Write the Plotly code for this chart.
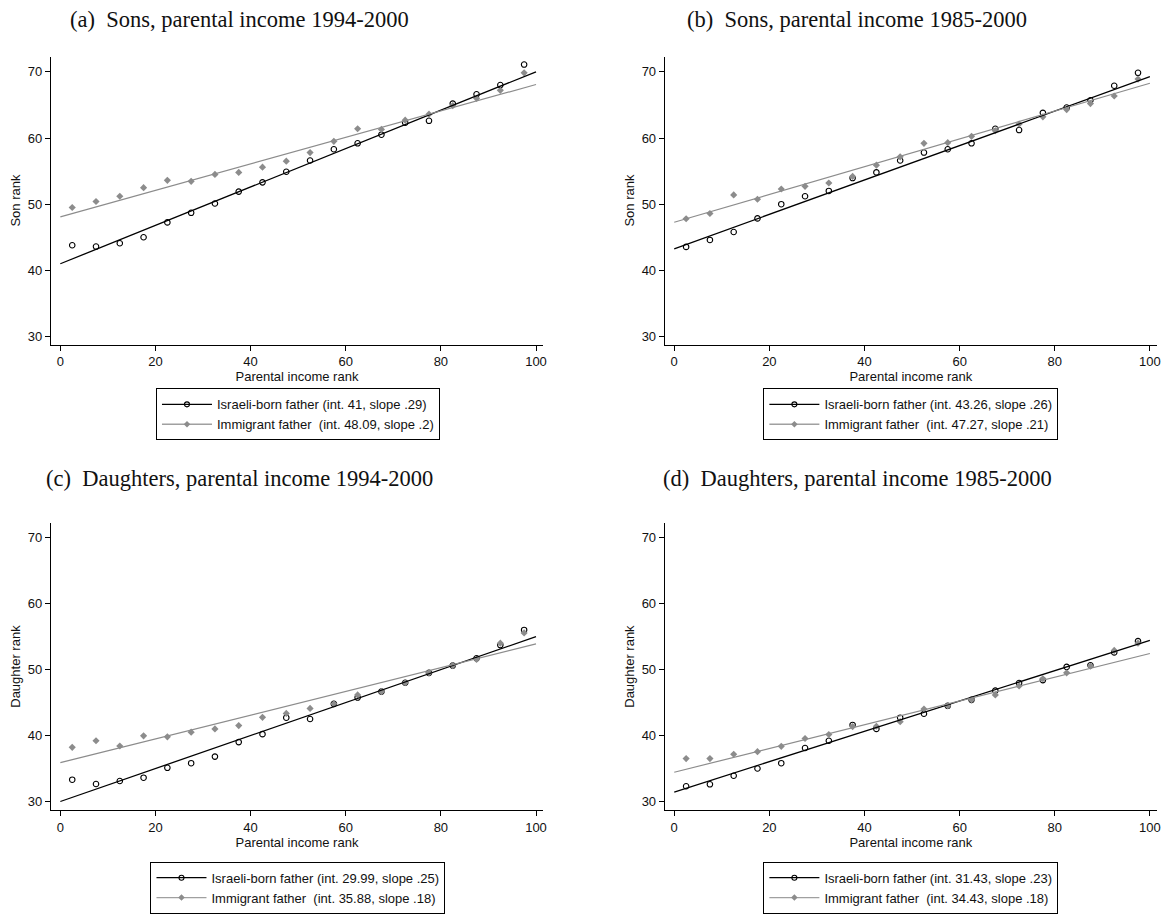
import plotly.graph_objects as go
import numpy as np

# ---------------- data ----------------
bins = [2.5, 7.5, 12.5, 17.5, 22.5, 27.5, 32.5, 37.5, 42.5, 47.5,
        52.5, 57.5, 62.5, 67.5, 72.5, 77.5, 82.5, 87.5, 92.5, 97.5]

# (a) Sons, parental income 1994-2000
sons94_israeli = [43.8, 43.6, 44.1, 45.0, 47.25, 48.7, 50.1, 51.9, 53.3, 54.9,
                  56.6, 58.3, 59.2, 60.5, 62.3, 62.6, 65.2, 66.6, 68.0, 71.1]
sons94_immig = [49.5, 50.4, 51.2, 52.5, 53.6, 53.45, 54.5, 54.8, 55.6, 56.5,
                57.8, 59.5, 61.4, 61.3, 62.7, 63.6, 64.9, 66.0, 67.2, 69.85]
# (b) Sons, parental income 1985-2000
sons85_israeli = [43.55, 44.6, 45.8, 47.85, 50.0, 51.2, 52.0, 53.95, 54.8, 56.6,
                  57.8, 58.3, 59.2, 61.4, 61.2, 63.8, 64.6, 65.7, 67.9, 69.85]
sons85_immig = [47.8, 48.6, 51.4, 50.75, 52.3, 52.7, 53.2, 54.2, 55.9, 57.15,
                59.2, 59.3, 60.25, 61.1, 62.1, 63.2, 64.3, 65.2, 66.35, 68.9]
# (c) Daughters, parental income 1994-2000
dau94_israeli = [33.3, 32.65, 33.1, 33.6, 35.1, 35.8, 36.8, 39.0, 40.2, 42.7,
                 42.5, 44.8, 45.75, 46.65, 48.0, 49.5, 50.6, 51.7, 53.7, 56.0]
dau94_immig = [38.2, 39.2, 38.4, 39.95, 39.8, 40.5, 41.0, 41.5, 42.75, 43.35,
               44.1, 44.8, 46.15, 46.65, 48.0, 49.5, 50.6, 51.55, 54.0, 55.55]
# (d) Daughters, parental income 1985-2000
dau85_israeli = [32.3, 32.6, 33.9, 35.0, 35.8, 38.1, 39.2, 41.6, 41.0, 42.7,
                 43.3, 44.5, 45.4, 46.8, 47.95, 48.4, 50.4, 50.65, 52.6, 54.3]
dau85_immig = [36.5, 36.5, 37.15, 37.55, 38.35, 39.55, 40.15, 41.35, 41.4, 42.1,
               44.0, 44.5, 45.4, 46.15, 47.5, 48.6, 49.5, 50.5, 52.9, 54.0]

# fitted lines (from legends)
israeli_int = [41.0, 43.26, 29.99, 31.43]
israeli_slope = [0.29, 0.26, 0.25, 0.23]
immig_int = [48.09, 47.27, 35.88, 34.43]
immig_slope = [0.20, 0.21, 0.18, 0.18]
israeli_slope_lbl = [".29", ".26", ".25", ".23"]
immig_slope_lbl = [".2", ".21", ".18", ".18"]
israeli_int_lbl = ["41", "43.26", "29.99", "31.43"]
immig_int_lbl = ["48.09", "47.27", "35.88", "34.43"]

titles = ["(a)\u2002Sons, parental income 1994-2000",
          "(b)\u2002Sons, parental income 1985-2000",
          "(c)\u2002Daughters, parental income 1994-2000",
          "(d)\u2002Daughters, parental income 1985-2000"]
ytitles = ["Son rank", "Son rank", "Daughter rank", "Daughter rank"]
xtitle = "Parental income rank"
xticks = [0, 20, 40, 60, 80, 100]
yticks = [30, 40, 50, 60, 70]

israeli_series = [sons94_israeli, sons85_israeli, dau94_israeli, dau85_israeli]
immig_series = [sons94_immig, sons85_immig, dau94_immig, dau85_immig]

# ---------------- layout geometry ----------------
W, H = 1171, 914
BLACK = "#000000"
GRAY = "#8c8c8c"
GRAY_LEG = "#a0a0a0"
SANS = "Liberation Sans, Arial, sans-serif"
SERIF = "Liberation Serif, Times New Roman, serif"

xdom_px = [(51, 545), (667, 1161), (51, 545), (667, 1161)]
ydom_px = [(58, 353), (58, 353), (536, 830), (536, 830)]
yranges = [[28.8, 72.3], [28.8, 72.3], [28.7, 72.2], [28.7, 72.2]]
title_pos = [(240, 20), (860, 20), (240, 490), (860, 490)]
legend_pos = [(299, 398), (914, 398), (299, 883), (914, 883)]

fig = go.Figure()
xline = np.linspace(0, 100, 2)

for i in range(4):
    suf = "" if i == 0 else str(i + 1)
    xa, ya = "x" + suf, "y" + suf
    leg = "legend" + suf
    # scatter points
    fig.add_trace(go.Scatter(x=bins, y=israeli_series[i], mode="markers", xaxis=xa, yaxis=ya,
                             marker=dict(symbol="circle-open", size=5.5, color=BLACK, line=dict(width=1.1)),
                             showlegend=False, hoverinfo="skip"))
    fig.add_trace(go.Scatter(x=bins, y=immig_series[i], mode="markers", xaxis=xa, yaxis=ya,
                             marker=dict(symbol="diamond", size=5.5, color=GRAY),
                             showlegend=False, hoverinfo="skip"))
    # fit lines
    fig.add_trace(go.Scatter(x=xline, y=israeli_int[i] + israeli_slope[i] * xline, mode="lines",
                             xaxis=xa, yaxis=ya, line=dict(color=BLACK, width=1.3),
                             showlegend=False, hoverinfo="skip"))
    fig.add_trace(go.Scatter(x=xline, y=immig_int[i] + immig_slope[i] * xline, mode="lines",
                             xaxis=xa, yaxis=ya, line=dict(color=GRAY, width=1.2),
                             showlegend=False, hoverinfo="skip"))
    # legend entries
    fig.add_trace(go.Scatter(x=[None], y=[None], mode="lines+markers", xaxis=xa, yaxis=ya,
                             name=f"Israeli-born father (int. {israeli_int_lbl[i]}, slope {israeli_slope_lbl[i]})",
                             line=dict(color=BLACK, width=1.3),
                             marker=dict(symbol="circle-open", size=5, color=BLACK, line=dict(width=1.1)),
                             legend=leg))
    fig.add_trace(go.Scatter(x=[None], y=[None], mode="lines+markers", xaxis=xa, yaxis=ya,
                             name=f"Immigrant father\u00a0 (int. {immig_int_lbl[i]}, slope {immig_slope_lbl[i]})",
                             line=dict(color=GRAY_LEG, width=1.3),
                             marker=dict(symbol="diamond", size=5, color=GRAY),
                             legend=leg))

    x0, x1 = xdom_px[i]
    yt, yb = ydom_px[i]
    fig.layout["xaxis" + suf] = dict(
        domain=[x0 / W, x1 / W], anchor=ya, range=[-2, 101.5],
        tickvals=xticks, ticks="outside", ticklen=5, tickwidth=1, tickcolor=BLACK,
        showline=True, linecolor=BLACK, linewidth=1, showgrid=False, zeroline=False,
        ticklabeloverflow="allow",
        tickfont=dict(family=SANS, size=13, color="#111"),
        title=dict(text=xtitle, font=dict(family=SANS, size=13, color="#111"), standoff=1),
    )
    fig.layout["yaxis" + suf] = dict(
        domain=[1 - yb / H, 1 - yt / H], anchor=xa, range=yranges[i],
        tickvals=yticks, ticks="outside", ticklen=5, tickwidth=1, tickcolor=BLACK,
        showline=True, linecolor=BLACK, linewidth=1, showgrid=False, zeroline=False,
        tickfont=dict(family=SANS, size=13, color="#111"),
        title=dict(text=ytitles[i], font=dict(family=SANS, size=13, color="#111"), standoff=4),
    )
    lx, ly = legend_pos[i]
    fig.layout[leg] = dict(
        x=lx / W, y=1 - ly / H, xanchor="center", yanchor="top", xref="paper", yref="paper",
        bordercolor=BLACK, borderwidth=1, bgcolor="white",
        font=dict(family=SANS, size=13, color="#111"), tracegroupgap=0, itemwidth=50,
    )
    tx, ty = title_pos[i]
    fig.add_annotation(text=titles[i], x=tx / W, y=1 - ty / H, xref="paper", yref="paper",
                       showarrow=False, xanchor="center", yanchor="middle",
                       font=dict(family=SERIF, size=22.5, color="#111"))

fig.update_layout(width=W, height=H, margin=dict(l=0, r=0, t=0, b=0),
                  paper_bgcolor="white", plot_bgcolor="white")

fig.write_html("out.html", config={"displayModeBar": False},
               post_script="document.body.style.margin='0';document.body.style.overflow='hidden';")
